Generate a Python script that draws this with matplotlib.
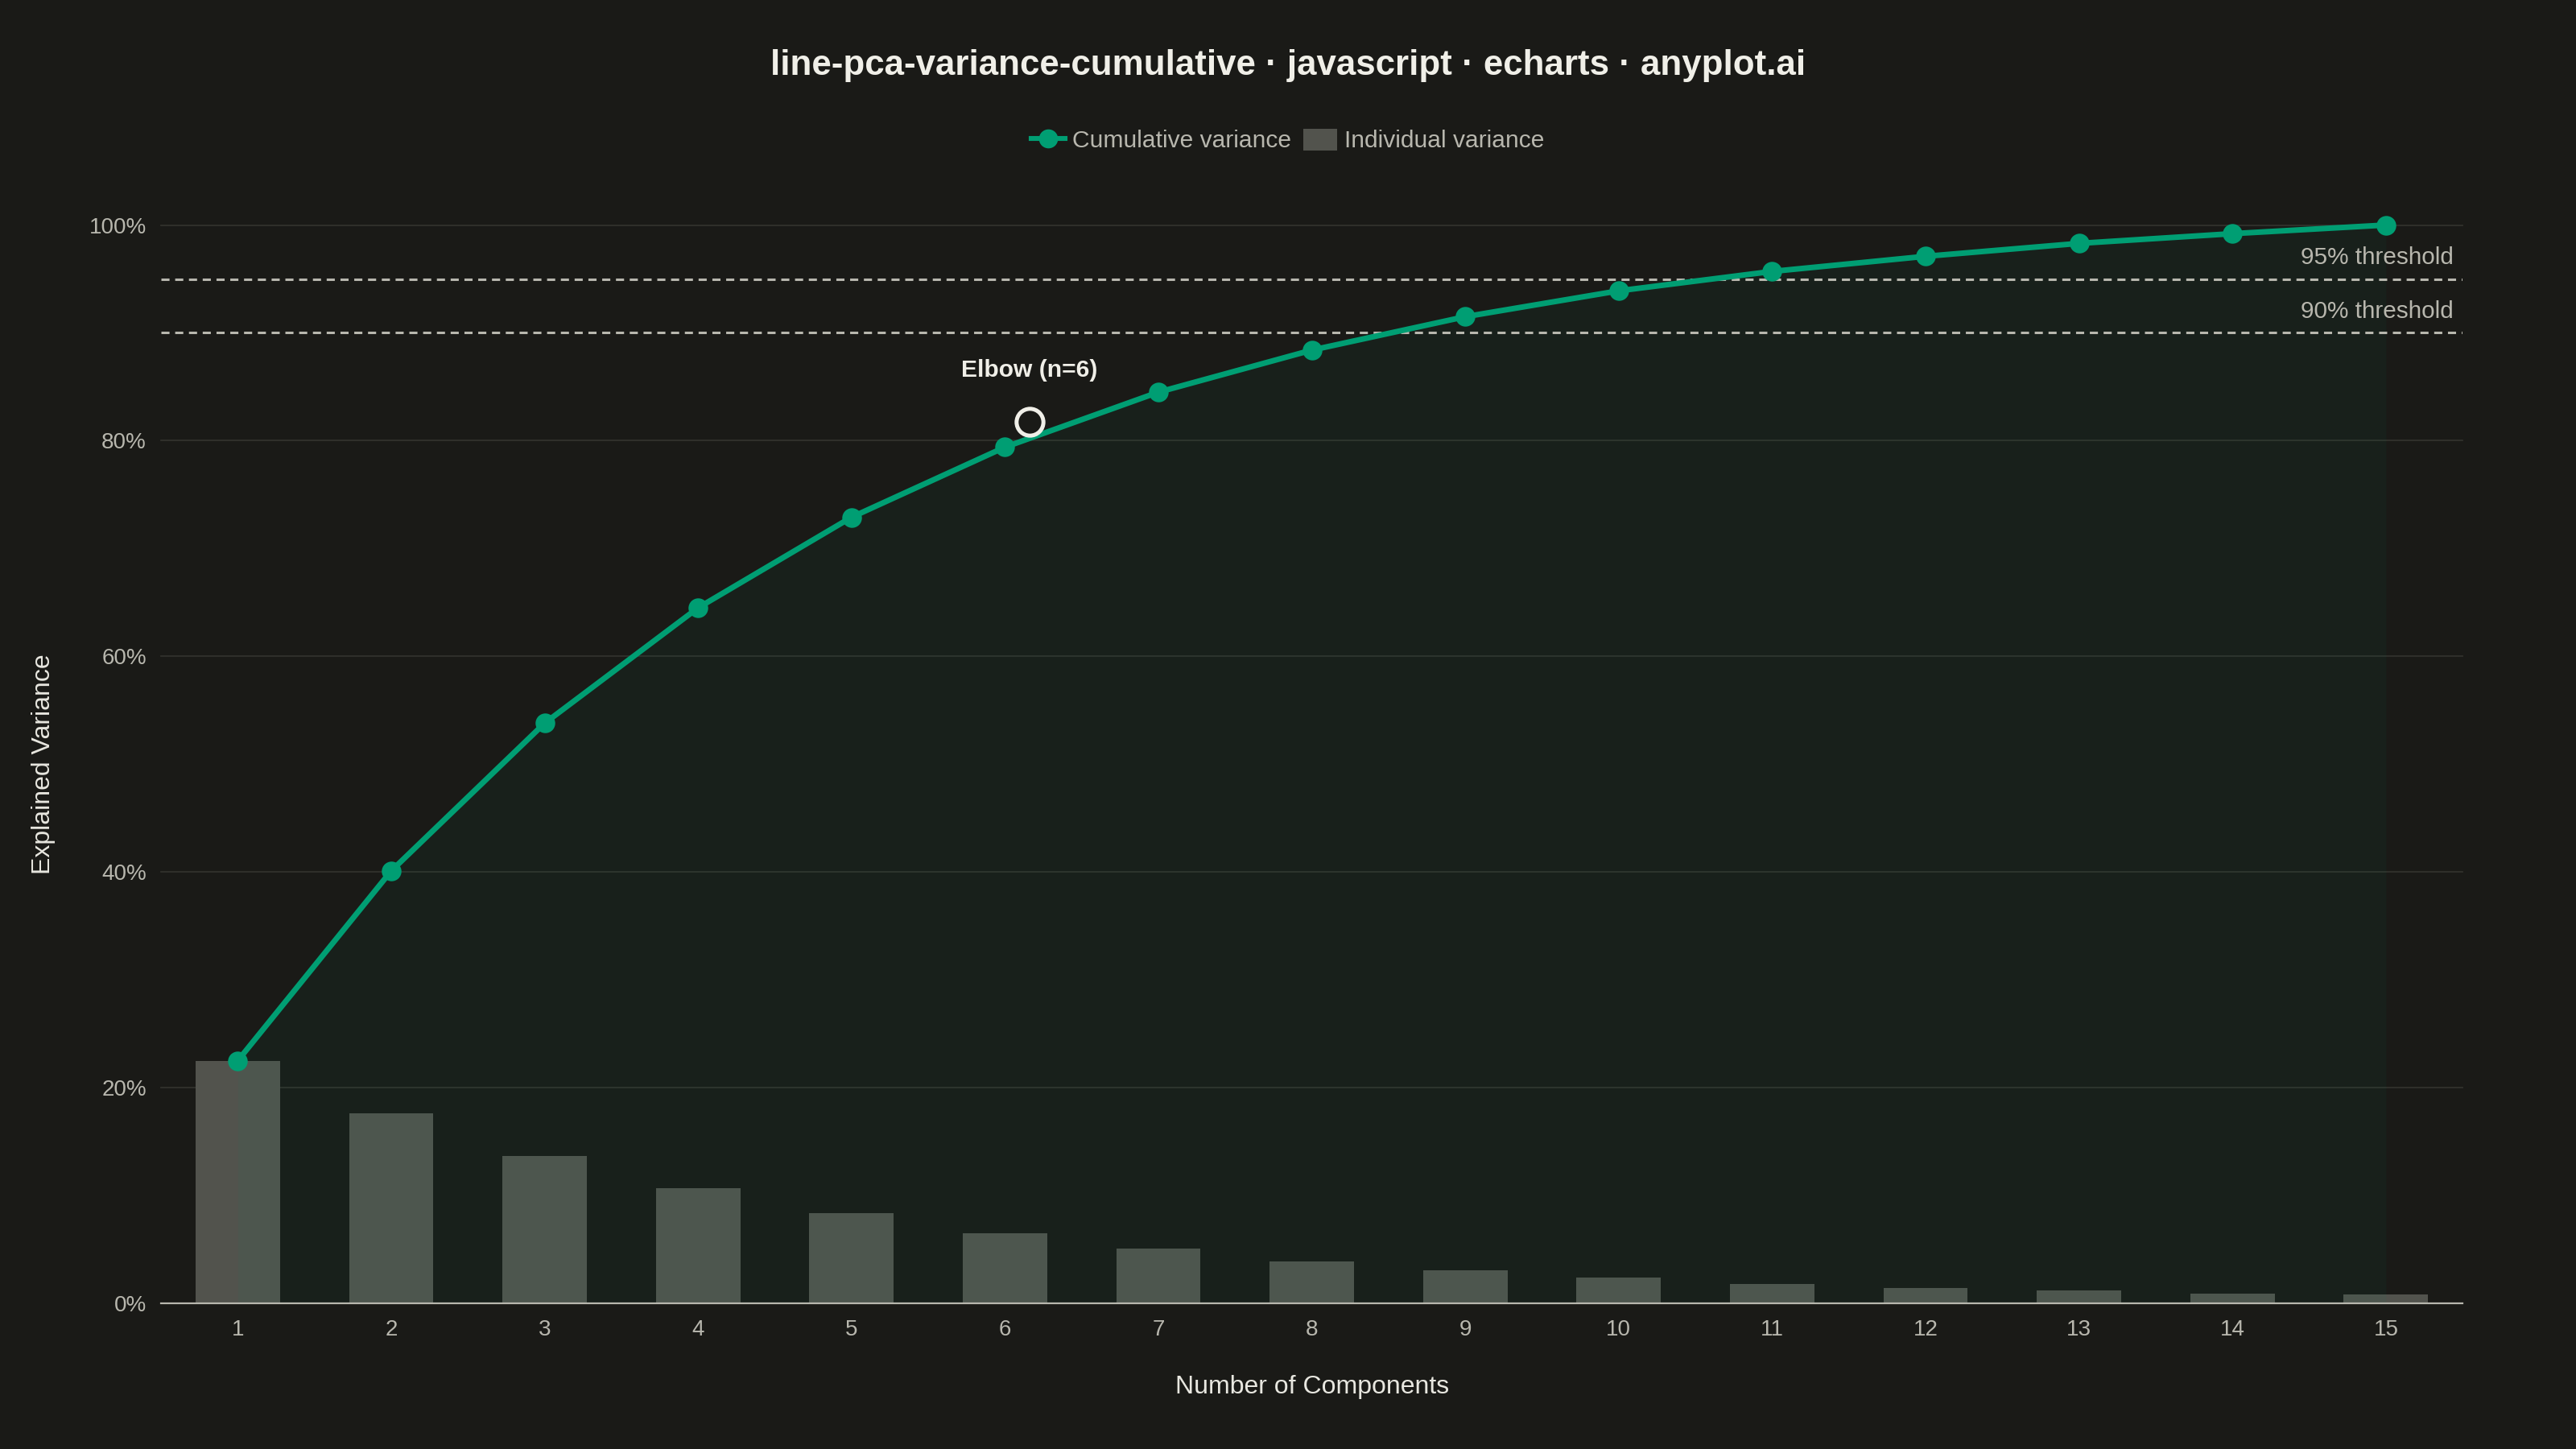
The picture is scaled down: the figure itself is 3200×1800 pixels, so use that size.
#!/usr/bin/env python3

"""
cumulative explained variance for a PCA, dark theme
"""

import numpy as np
import matplotlib.pyplot as plt
import matplotlib.transforms as mtransforms
from matplotlib.lines import Line2D
from matplotlib.patches import Patch

# individual explained variance per component (percent)
COMPONENTS = list(range(1, 16))
INDIVIDUAL = [22.5, 17.6, 13.7, 10.7, 8.4, 6.5, 5.1, 3.9, 3.1, 2.4, 1.8, 1.4, 1.2, 0.9, 0.8]
THRESHOLDS = [95, 90]
THRESHOLD_LABELS = ["95% threshold", "90% threshold"]
ELBOW = 6
Y_TICKS = [0, 20, 40, 60, 80, 100]

TITLE = "line-pca-variance-cumulative · javascript · echarts · anyplot.ai"

BG = "#1a1a17"
GREEN = "#009E73"
BAR = "#52534d"
TEXT = "#f0efe8"
MUTED = "#b8b7ae"
GRID = "#34342f"


if __name__ == "__main__":
    plt.rcParams['font.family'] = ['Liberation Sans', 'DejaVu Sans']

    x = np.array(COMPONENTS)
    ind = np.array(INDIVIDUAL)
    cum = np.cumsum(ind)

    fig = plt.figure(figsize=(16, 9), dpi=200, facecolor=BG)
    ax = fig.add_axes([0.0625, 0.1005, 0.956 - 0.0625, 0.8447 - 0.1005])
    ax.set_facecolor(BG)

    # bars first, area fill goes on top of them
    ax.bar(x, ind, width=0.55, color=BAR, zorder=2)
    ax.fill_between(x, cum, 0, color=GREEN, alpha=0.05, linewidth=0, zorder=3)

    for t, lab in zip(THRESHOLDS, THRESHOLD_LABELS):
        ax.axhline(t, color=MUTED, lw=1.1, dashes=(3.3, 2.3), zorder=4)
        ax.annotate(lab, xy=(1, t), xycoords=('axes fraction', 'data'),
                    xytext=(-4, 9.5), textcoords='offset points',
                    ha='right', va='center', color=MUTED, fontsize=10.7, zorder=6)

    ax.plot(x, cum, color=GREEN, lw=2.5, marker='o', markersize=7.8,
            zorder=5, solid_capstyle='round', clip_on=False)

    # elbow marker, offset up-right of the point
    off = mtransforms.offset_copy(ax.transData, fig=fig, x=11, y=11.5, units='points')
    ax.plot([ELBOW], [cum[ELBOW - 1]], marker='o', markersize=12, mfc='none',
            mec=TEXT, mew=1.8, transform=off, zorder=7)
    ax.annotate("Elbow (n={})".format(ELBOW), xy=(ELBOW, cum[ELBOW - 1]),
                xytext=(11, 34.5), textcoords='offset points', ha='center', va='center',
                color=TEXT, fontsize=10.8, fontweight='bold', zorder=7)

    ax.set_xlim(0.5, 15.5)
    ax.set_ylim(0, 100)
    ax.set_xticks(x)
    ax.set_yticks(Y_TICKS)
    ax.set_yticklabels(["{}%".format(v) for v in Y_TICKS])
    ax.tick_params(axis='both', length=0, labelsize=10, labelcolor=MUTED)
    ax.tick_params(axis='x', pad=7)
    ax.tick_params(axis='y', pad=6.5)
    ax.grid(axis='y', color=GRID, lw=0.6, zorder=0)
    for gl in ax.get_ygridlines():
        gl.set_clip_on(False)   # keep the 100% line whole
    ax.set_axisbelow(True)
    for s in ['top', 'right', 'left']:
        ax.spines[s].set_visible(False)
    ax.spines['bottom'].set_color(MUTED)
    ax.spines['bottom'].set_linewidth(0.8)
    ax.spines['bottom'].set_zorder(8)

    ax.set_xlabel("Number of Components", color="#e8e7e0", fontsize=11.5, labelpad=15.5)
    ax.set_ylabel("Explained Variance", color="#e8e7e0", fontsize=11.5, labelpad=15)

    fig.text(0.5, 0.955, TITLE, ha='center', va='center', color=TEXT,
             fontsize=15.8, fontweight='bold')

    handles = [Line2D([], [], color=GREEN, lw=2.2, marker='o', markersize=7.5),
               Patch(facecolor=BAR, edgecolor='none')]
    leg = fig.legend(handles, ["Cumulative variance", "Individual variance"],
                     loc='center', bbox_to_anchor=(0.5, 0.903), ncol=2, frameon=False,
                     fontsize=10.8, labelcolor=MUTED, handlelength=1.4, handleheight=1.0,
                     handletextpad=0.3, columnspacing=0.5)

    fig.savefig("out.png", facecolor=BG)
